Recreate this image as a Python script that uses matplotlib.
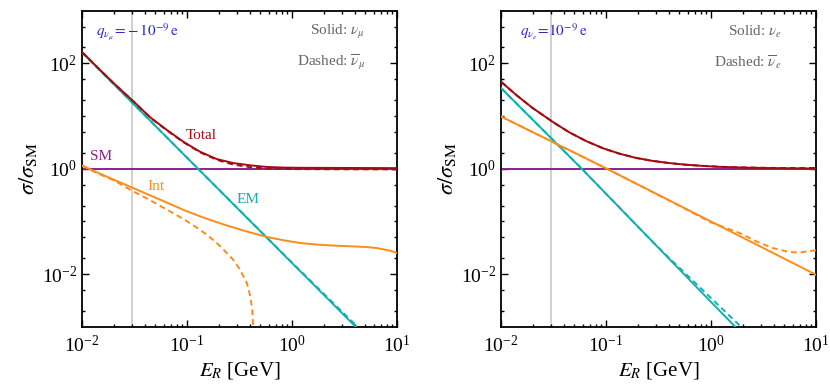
import matplotlib
matplotlib.use("Agg")
import matplotlib.pyplot as plt
from matplotlib.ticker import FixedLocator, LogLocator, NullFormatter

plt.rcParams['font.family'] = 'serif'
plt.rcParams['font.serif'] = ['Liberation Serif', 'DejaVu Serif']
plt.rcParams['mathtext.fontset'] = 'stix'

# colours
c_total = '#a30d12'
c_em = '#17aeb0'
c_int = '#ff8c1a'
c_sm = '#8e1f93'

# ---- left panel: nu_mu, q = -1e-9 e ----
mu_total_x = [0.01, 0.0141, 0.02, 0.0309, 0.0447, 0.0646, 0.0933, 0.133, 0.191, 0.275, 0.398, 0.575,
              0.832, 1.19, 2.47, 10]
mu_total_solid = [164, 83, 42.1, 19.0, 9.4, 5.4, 3.2, 2.1, 1.53, 1.28, 1.16, 1.08, 1.05, 1.04, 1.035, 1.025]
mu_total_dashed = [164, 83, 42.0, 18.9, 9.3, 5.3, 3.15, 2.05, 1.48, 1.2, 1.07, 1.01, 0.99, 0.98, 0.975, 0.97]

mu_em_x = [0.01, 0.1, 1, 4.03]
mu_em_solid = [162, 1.62, 0.0162, 0.001]
mu_em_dashed_x = [0.01, 0.1, 1, 4.2]
mu_em_dashed = [162, 1.62, 0.0165, 0.001]

mu_int_x = [0.01, 0.0141, 0.02, 0.0309, 0.0447, 0.0646, 0.0933, 0.133, 0.191, 0.275, 0.398, 0.575,
            0.832, 1.19, 1.70, 2.47, 3.55, 5.14, 6.31, 7.41, 8.71, 10]
mu_int_solid = [1.148, 0.84, 0.62, 0.427, 0.31, 0.226, 0.164, 0.1245, 0.0966, 0.0767, 0.0617, 0.0507,
                0.0437, 0.0389, 0.0363, 0.0347, 0.0337, 0.0325, 0.0313, 0.0295, 0.0275, 0.0251]
mu_int_dashed_x = [0.01, 0.0141, 0.02, 0.0309, 0.0447, 0.0646, 0.0933, 0.133, 0.158, 0.192, 0.229, 0.276,
                   0.316, 0.371, 0.398, 0.417, 0.427, 0.437]
mu_int_dashed = [1.148, 0.813, 0.603, 0.368, 0.251, 0.166, 0.110, 0.0692, 0.0537, 0.0389, 0.0275, 0.0186,
                 0.0126, 0.00676, 0.00398, 0.00224, 0.001, 0.0001]

# ---- right panel: nu_e, q = +1e-9 e ----
e_total_x = [0.01, 0.0141, 0.02, 0.0309, 0.0447, 0.0646, 0.0933, 0.133, 0.191, 0.275, 0.398, 0.575,
             0.832, 1.19, 1.70, 2.47, 3.55, 5.14, 10]
e_total_solid = [44.8, 24.7, 14.2, 7.8, 4.9, 3.35, 2.45, 1.94, 1.61, 1.41, 1.28, 1.19, 1.13, 1.085, 1.06,
                 1.042, 1.03, 1.02, 1.01]
e_total_dashed = [44.8, 24.7, 14.2, 7.8, 4.9, 3.35, 2.45, 1.94, 1.61, 1.41, 1.28, 1.19, 1.13, 1.09, 1.065,
                  1.047, 1.036, 1.029, 1.03]

e_em_x = [0.01, 0.0587, 1.0, 1.7]
e_em_solid = [34, 1.0, 0.00295, 0.001]
e_em_dashed_x = [0.01, 0.0587, 0.3, 1.0, 1.93]
e_em_dashed = [34, 1.0, 0.035, 0.0035, 0.001]

e_int_x = [0.01, 0.1016, 10]
e_int_solid = [9.8, 1.0, 0.0097]
e_int_dashed_x = [0.01, 0.1016, 0.5, 1.0, 1.89, 2.72, 3.93, 5.65, 7.05, 9.44, 10]
e_int_dashed = [9.8, 1.0, 0.198, 0.0955, 0.0597, 0.0414, 0.0309, 0.026, 0.0257, 0.0279, 0.0282]

sm_x = [0.01, 10]
sm_y = [1, 1]
e_cut = 0.03

y_minor = [2e-3, 5e-3, 2e-2, 5e-2, 0.1, 0.2, 0.5, 2, 5, 10, 20, 50, 200, 500]

fig = plt.figure(figsize=(8.3, 3.84), dpi=100)
ax1 = fig.add_axes([0.0988, 0.1492, 0.3795, 0.823])
ax2 = fig.add_axes([0.6036, 0.1492, 0.3795, 0.823])

lw = 1.4
dash = (0, (3, 2))
panels = [
    (ax1, mu_total_x, mu_total_solid, mu_total_dashed, mu_em_x, mu_em_solid, mu_em_dashed_x, mu_em_dashed,
     mu_int_x, mu_int_solid, mu_int_dashed_x, mu_int_dashed),
    (ax2, e_total_x, e_total_solid, e_total_dashed, e_em_x, e_em_solid, e_em_dashed_x, e_em_dashed,
     e_int_x, e_int_solid, e_int_dashed_x, e_int_dashed),
]
for (ax, tx, ts, td, emx, ems, emdx, emd, ix, isol, idx, idash) in panels:
    ax.axvline(e_cut, color='#c8c8c8', lw=1.2, zorder=1)
    ax.plot(sm_x, sm_y, color=c_sm, lw=lw, zorder=2)
    ax.plot(emx, ems, color=c_em, lw=lw, zorder=3)
    ax.plot(emdx, emd, color=c_em, lw=lw, ls=dash, zorder=3)
    ax.plot(ix, isol, color=c_int, lw=lw, zorder=4)
    ax.plot(idx, idash, color=c_int, lw=lw, ls=dash, zorder=4)
    ax.plot(tx, ts, color=c_total, lw=lw, zorder=5)
    ax.plot(tx, td, color=c_total, lw=lw, ls=dash, zorder=5)

    ax.set_xscale('log')
    ax.set_yscale('log')
    ax.set_xlim(0.01, 10)
    ax.set_ylim(1e-3, 1e3)
    ax.yaxis.set_major_locator(FixedLocator([1e-2, 1, 1e2]))
    ax.yaxis.set_minor_locator(FixedLocator(y_minor))
    ax.yaxis.set_minor_formatter(NullFormatter())
    ax.xaxis.set_major_locator(FixedLocator([1e-2, 1e-1, 1, 10]))
    ax.xaxis.set_minor_locator(LogLocator(base=10, subs=range(2, 10)))
    ax.xaxis.set_minor_formatter(NullFormatter())
    ax.tick_params(which='both', direction='in', top=True, right=True, width=1.0, labelsize=14)
    ax.tick_params(which='major', length=5)
    ax.tick_params(which='minor', length=2.5)
    ax.tick_params(axis='x', pad=6)
    for s in ax.spines.values():
        s.set_linewidth(1.3)
    ax.set_xlabel(r'$E_R$ [GeV]', fontsize=15, labelpad=3)
    ax.set_ylabel(r'$\sigma/\sigma_{\rm SM}$', fontsize=16, labelpad=2)

txt = dict(transform=ax1.transAxes, fontsize=11)
ax1.text(0.045, 0.933, r'$q_{\nu_\mu}\!=\!-10^{-9}\,\mathrm{e}$', color='#2b2bc0', va='center', ha='left', **txt)
ax1.text(0.898, 0.933, r'Solid: $\nu_\mu$', color='#666666', va='center', ha='right', **txt)
ax1.text(0.898, 0.838, r'Dashed: $\overline{\nu}_\mu$', color='#666666', va='center', ha='right', **txt)
ax1.text(0.379, 0.604, 'Total', color=c_total, va='center', ha='center', **txt)
ax1.text(0.060, 0.538, 'SM', color=c_sm, va='center', ha='center', **txt)
ax1.text(0.235, 0.445, 'Int', color=c_int, va='center', ha='center', **txt)
ax1.text(0.526, 0.401, 'EM', color=c_em, va='center', ha='center', **txt)

txt2 = dict(transform=ax2.transAxes, fontsize=11)
ax2.text(0.06, 0.933, r'$q_{\nu_e}\!=\!10^{-9}\,\mathrm{e}$', color='#2b2bc0', va='center', ha='left', **txt2)
ax2.text(0.891, 0.933, r'Solid: $\nu_e$', color='#666666', va='center', ha='right', **txt2)
ax2.text(0.891, 0.838, r'Dashed: $\overline{\nu}_e$', color='#666666', va='center', ha='right', **txt2)

fig.savefig('out.png', dpi=100)
